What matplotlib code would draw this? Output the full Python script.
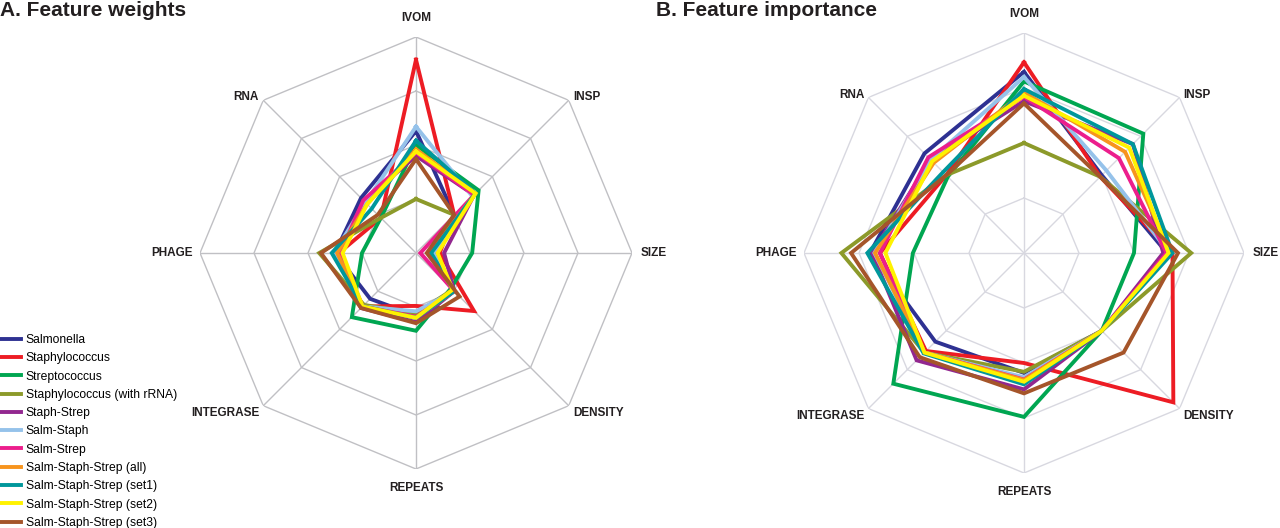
import numpy as np
import matplotlib

matplotlib.use('Agg')

from matplotlib import pyplot as plt

plt.rcParams['font.family'] = ['Liberation Sans', 'DejaVu Sans']

# axes of the radar, clockwise from the top
features = ['IVOM', 'INSP', 'SIZE', 'DENSITY', 'REPEATS', 'INTEGRASE', 'PHAGE', 'RNA']

series = ['Salmonella', 'Staphylococcus', 'Streptococcus', 'Staphylococcus (with rRNA)',
          'Staph-Strep', 'Salm-Staph', 'Salm-Strep', 'Salm-Staph-Strep (all)',
          'Salm-Staph-Strep (set1)', 'Salm-Staph-Strep (set2)', 'Salm-Staph-Strep (set3)']

colors = ['#2e3192', '#ed1c24', '#00a651', '#8c9a2a', '#92278f', '#95c2ea',
          '#ec1e8c', '#f7941d', '#00979b', '#fff200', '#a5552a']

# A. feature weights (fraction of outer ring)
weights = [
    [0.565, 0.25, 0.08, 0.25, 0.29, 0.30, 0.375, 0.36],
    [0.895, 0.25, 0.11, 0.38, 0.245, 0.35, 0.357, 0.23],
    [0.50, 0.41, 0.26, 0.23, 0.36, 0.42, 0.25, 0.23],
    [0.25, 0.25, 0.07, 0.24, 0.28, 0.34, 0.448, 0.23],
    [0.45, 0.38, 0.13, 0.25, 0.32, 0.36, 0.37, 0.34],
    [0.585, 0.37, 0.08, 0.25, 0.27, 0.35, 0.38, 0.33],
    [0.465, 0.38, 0.02, 0.25, 0.295, 0.35, 0.35, 0.345],
    [0.48, 0.39, 0.065, 0.25, 0.30, 0.35, 0.365, 0.32],
    [0.52, 0.39, 0.07, 0.25, 0.30, 0.35, 0.39, 0.29],
    [0.47, 0.39, 0.10, 0.24, 0.30, 0.35, 0.34, 0.32],
    [0.435, 0.25, 0.05, 0.285, 0.325, 0.36, 0.44, 0.25],
]

# B. feature importance (fraction of outer ring)
importance = [
    [0.823, 0.50, 0.65, 0.50, 0.545, 0.57, 0.70, 0.64],
    [0.867, 0.49, 0.675, 0.96, 0.50, 0.63, 0.655, 0.50],
    [0.78, 0.767, 0.50, 0.50, 0.745, 0.84, 0.505, 0.49],
    [0.50, 0.49, 0.76, 0.50, 0.54, 0.64, 0.83, 0.50],
    [0.69, 0.70, 0.633, 0.50, 0.62, 0.69, 0.69, 0.60],
    [0.80, 0.53, 0.66, 0.50, 0.565, 0.64, 0.68, 0.60],
    [0.71, 0.61, 0.648, 0.50, 0.575, 0.64, 0.655, 0.615],
    [0.73, 0.65, 0.667, 0.50, 0.577, 0.64, 0.677, 0.58],
    [0.745, 0.70, 0.675, 0.50, 0.597, 0.645, 0.712, 0.52],
    [0.715, 0.677, 0.657, 0.50, 0.585, 0.64, 0.63, 0.59],
    [0.68, 0.49, 0.70, 0.64, 0.638, 0.67, 0.786, 0.50],
]

rings = [0.25, 0.5, 0.75, 1.0]

# label placement: (ha, dx, dy) in points around each outer vertex
label_pos = [('center', 0, 14), ('left', 3, 2), ('left', 6, 0), ('left', 3, -5),
             ('center', 0, -14), ('right', -3, -5), ('right', -5, 0), ('right', -3, 2)]

theta = np.arange(len(features)) * 2 * np.pi / len(features)
theta_c = np.append(theta, theta[0])


def radar(ax, data, grid_color):
    ax.set_theta_zero_location('N')
    ax.set_theta_direction(-1)
    ax.set_rlim(0, 1)
    ax.set_xticks([])
    ax.set_yticks([])
    ax.grid(False)
    ax.spines['polar'].set_visible(False)
    ax.patch.set_alpha(0)
    for r in rings:
        ax.plot(theta_c, [r] * len(theta_c), color=grid_color, lw=1, zorder=1)
    for t in theta:
        ax.plot([t, t], [0, 1], color=grid_color, lw=1, zorder=1)
    lines = []
    for vals, name, c in zip(data, series, colors):
        ln, = ax.plot(theta_c, vals + vals[:1], color=c, lw=2.8, label=name, zorder=3,
                      solid_joinstyle='miter')
        lines.append(ln)
    for t, name, (ha, dx, dy) in zip(theta, features, label_pos):
        ax.annotate(name, xy=(t, 1), xytext=(dx, dy), textcoords='offset points',
                    ha=ha, va='center', fontsize=8.5, fontweight='bold', color='#231f20')
    return lines


fig = plt.figure(figsize=(12.8, 5.28), dpi=100)

ax1 = fig.add_axes([200 / 1280, 59 / 528, 432 / 1280, 432 / 528], projection='polar')
ax1.set_aspect('auto')
lines = radar(ax1, weights, '#c0c0c4')

ax2 = fig.add_axes([804 / 1280, 55 / 528, 440 / 1280, 440 / 528], projection='polar')
ax2.set_aspect('auto')
radar(ax2, importance, '#d8d8e0')

fig.text(0.0, 1 - 11 / 528, 'A. Feature weights', fontsize=15, fontweight='bold',
         ha='left', va='center', color='#231f20')
fig.text(656 / 1280, 1 - 10 / 528, 'B. Feature importance', fontsize=15, fontweight='bold',
         ha='left', va='center', color='#231f20')

fig.legend(handles=lines, loc='upper left', bbox_to_anchor=(1 / 1280, 1 - 334 / 528),
           frameon=False, fontsize=8.7, handlelength=1.65, handletextpad=0.4,
           labelspacing=0.52, borderpad=0, borderaxespad=0)

plt.savefig('out.png', dpi=100)
